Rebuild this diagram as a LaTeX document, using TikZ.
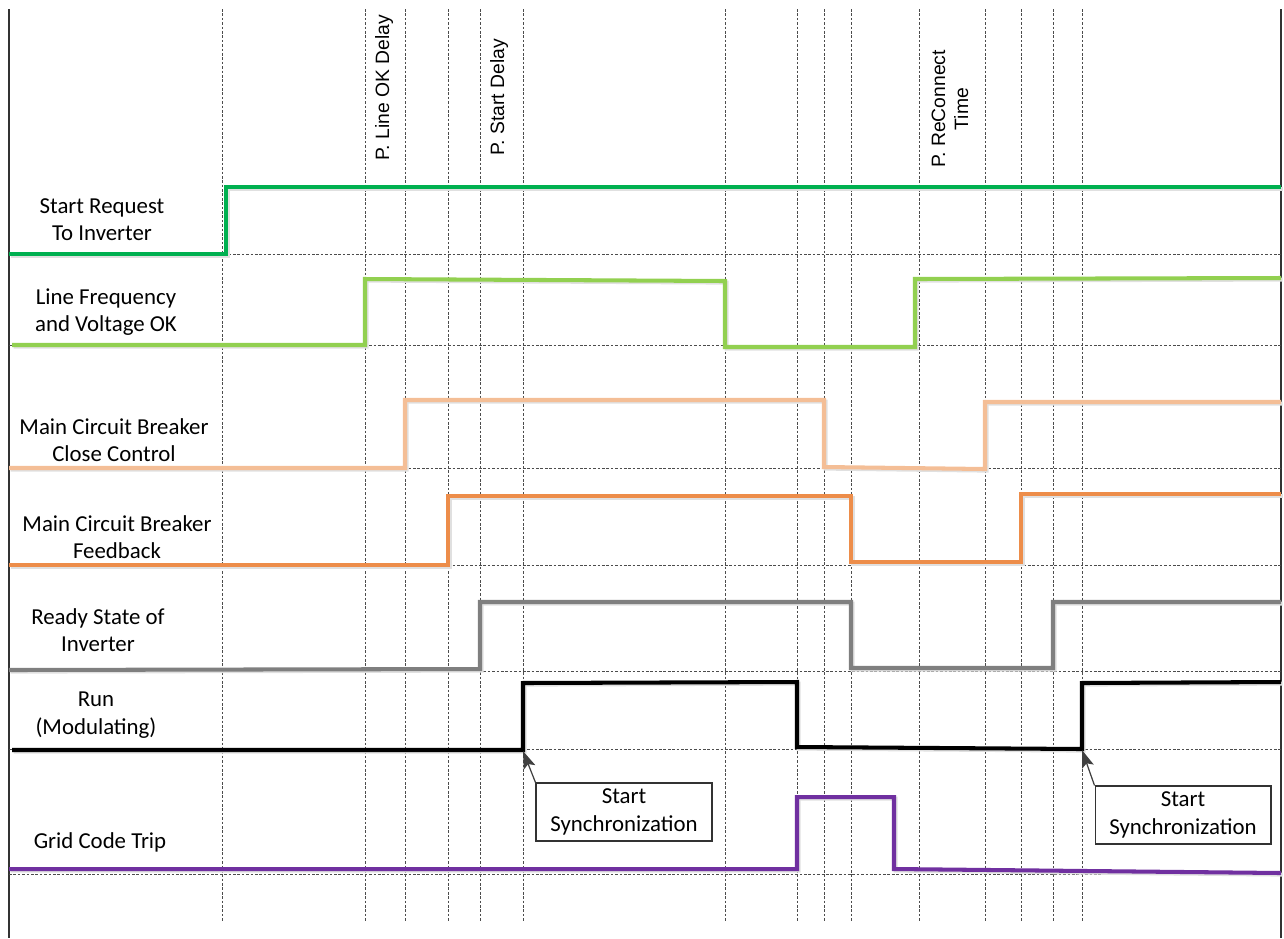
\documentclass[tikz,border=0pt]{standalone}
\usepackage{fontspec}
\setmainfont{Carlito}
\newfontfamily\arialfont{Liberation Sans}
\usetikzlibrary{arrows.meta}

\definecolor{startgreen}{RGB}{0,176,80}
\definecolor{linegreen}{RGB}{146,208,80}
\definecolor{closepeach}{RGB}{244,190,150}
\definecolor{fborange}{RGB}{237,141,74}
\definecolor{readygray}{RGB}{127,127,127}
\definecolor{trippurple}{RGB}{112,48,160}

\begin{document}
\begin{tikzpicture}[x=0.02cm, y=-0.02cm, font=\fontsize{13}{15.5}\selectfont,
    gridline/.style={black!70, line width=0.45pt, dash pattern=on 1.5pt off 1pt},
    sig/.style={line width=2.3pt, preaction={draw=black!12, line width=2.3pt,
        transform canvas={shift={(0.9pt,-0.9pt)}}}},
    siglabel/.style={align=center},
    delaylabel/.style={rotate=90, align=center, font=\arialfont\fontsize{11}{13}\selectfont},
    callout/.style={draw=black!80, line width=0.6pt, fill=white, align=center,
        minimum width=3.52cm, minimum height=1.16cm, inner sep=1pt},
    callarrow/.style={-{Stealth[length=10pt, width=7pt, inset=2pt]}, black!75, line width=0.7pt}]
\useasboundingbox (0,0) rectangle (1284,938);

% frame
\draw[line width=0.7pt, black!80] (9,9) -- (9,938);
\draw[line width=0.7pt, black!80] (1281,9) -- (1281,938);

% time marks
\foreach \t in {222,365,405,448,480,523,725,797,824,851,919,985,1021,1053,1082}
    \draw[gridline] (\t,9) -- (\t,922);

% low levels
\foreach \b in {254,345,468,565,671,749,874}
    \draw[gridline] (9,\b) -- (1281,\b);

% delays
\node[delaylabel, anchor=west] (dlyline) at (384,167) {P. Line OK Delay};
\node[delaylabel, anchor=west] (dlystart) at (499,162) {P. Start Delay};
\node[delaylabel] (dlyreconn) at (950,109) {P. ReConnect\\Time};

% Start Request
\draw[sig, startgreen] (9,254) -- (226,254) -- (226,187) -- (1281,187);
\node[siglabel] (lblstart) at (102,220) {Start Request\\To Inverter};

% Line Frequency
\draw[sig, linegreen] (12,345) -- (365,345) -- (365,279) -- (725,281) -- (725,347)
    -- (915,347) -- (915,279) -- (1281,278);
\node[siglabel] (lblline) at (106,312) {Line Frequency\\and Voltage OK};

% Main Circuit Breaker close
\draw[sig, closepeach] (9,468) -- (405,468) -- (405,400) -- (824,400) -- (824,467)
    -- (985,469) -- (985,402) -- (1281,402);
\node[siglabel] (lblclose) at (114,440) {Main Circuit Breaker\\Close Control};

% Main Circuit Breaker feedback
\draw[sig, fborange] (9,565) -- (448,565) -- (448,496) -- (851,496) -- (851,562)
    -- (1021,562) -- (1021,494) -- (1281,494);
\node[siglabel] (lblfb) at (117,537) {Main Circuit Breaker\\Feedback};

% Ready
\draw[sig, readygray] (9,670) -- (480,669) -- (480,602) -- (851,602) -- (851,668)
    -- (1053,668) -- (1053,602) -- (1281,602);
\node[siglabel] (lblready) at (98,630) {Ready State of\\Inverter};

% Run
\draw[sig, black] (12,750) -- (523,750) -- (523,683) -- (797,682) -- (797,747)
    -- (1082,749) -- (1082,683) -- (1281,682);
\node[siglabel] (lblrun) at (96,715) {Run\\(Modulating)};

% Grid Code Trip
\draw[sig, trippurple] (9,869) -- (797,869) -- (797,797) -- (894,797) -- (894,869)
    -- (1281,873);
\node[siglabel] (lbltrip) at (100,842) {Grid Code Trip};

% synchronization
\coordinate (runedge1) at (523,751);
\coordinate (runedge2) at (1082,750);
\node[callout] (sync1) at (624,812) {Start\\Synchronization};
\node[callout] (sync2) at (1183,815) {Start\\Synchronization};
\draw[callarrow] (sync1.north west) -- (runedge1);
\draw[callarrow] (sync2.north west) -- (runedge2);
\end{tikzpicture}
\end{document}
